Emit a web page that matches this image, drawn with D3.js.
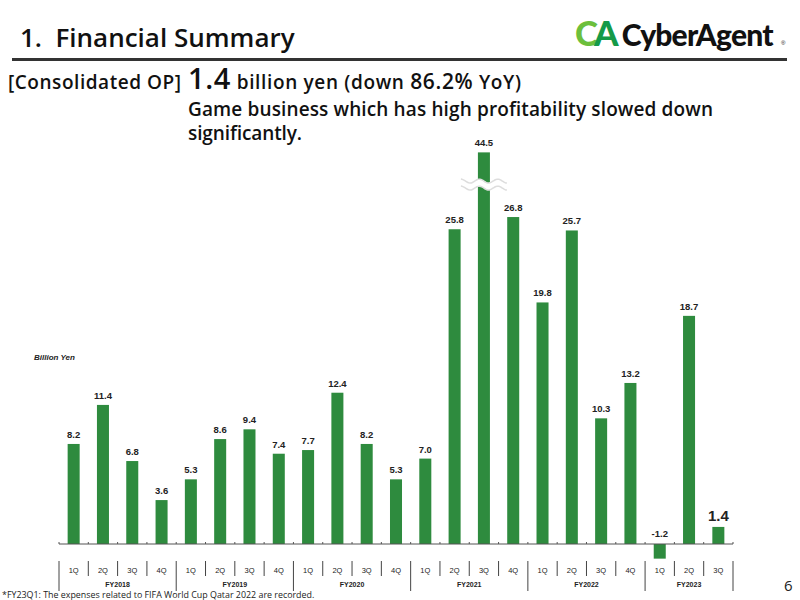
<!DOCTYPE html>
<html>
<head>
<meta charset="utf-8">
<script src="https://cdn.jsdelivr.net/npm/d3@7"></script>
<style>
  body { margin: 0; background: #fff; }
  svg { display: block; }
</style>
</head>
<body>
<div id="vis"></div>
<script>
// Chart data (billion yen, consolidated OP per quarter)
const years = ['FY2018', 'FY2019', 'FY2020', 'FY2021', 'FY2022', 'FY2023']
const quartersPerYear = [4, 4, 4, 4, 4, 3]
const quarterNames = ['1Q', '2Q', '3Q', '4Q']
const values = [8.2, 11.4, 6.8, 3.6,
                5.3, 8.6, 9.4, 7.4,
                7.7, 12.4, 8.2, 5.3,
                7.0, 25.8, 44.5, 26.8,
                19.8, 25.7, 10.3, 13.2,
                -1.2, 18.7, 1.4]

// build flat list of bars
let bars = []
years.forEach(function(fy, yi) {
    for (let q = 0; q < quartersPerYear[yi]; q++) {
        bars.push({fy: fy, q: quarterNames[q], v: values[bars.length]})
    }
})

const W = 800, H = 600
const green = '#2e8b3e'
const sans = '"Open Sans", "Noto Sans", sans-serif'
const arial = '"Liberation Sans", Arial, sans-serif'

const svg = d3.select('#vis').append('svg')
    .attr('width', W).attr('height', H)

// ---- header ----
svg.append('text')
    .attr('x', 20).attr('y', 47)
    .attr('font-family', sans).attr('font-weight', 600)
    .attr('font-size', 26).attr('fill', '#111')
    .attr('xml:space', 'preserve')
    .text('1.  Financial Summary')

svg.append('rect')
    .attr('x', 12).attr('y', 58).attr('width', 775).attr('height', 3)
    .attr('fill', '#333')

// logo
let logo = svg.append('text')
    .attr('x', 575).attr('y', 46)
    .attr('font-family', 'Lato, sans-serif').attr('font-weight', 900)
    .attr('font-size', 35)
logo.append('tspan').attr('fill', '#6cbf3c').attr('letter-spacing', -4).text('C')
logo.append('tspan').attr('fill', '#159a48').text('A')
logo.append('tspan').attr('fill', '#111').attr('dx', 3).attr('font-size', 30)
    .attr('letter-spacing', -0.8).text('CyberAgent')
svg.append('text')
    .attr('x', 781).attr('y', 45)
    .attr('font-family', arial).attr('font-size', 6).attr('fill', '#111')
    .text('®')

// subtitle
svg.append('text')
    .attr('x', 8).attr('y', 89)
    .attr('font-family', sans).attr('font-weight', 600)
    .attr('font-size', 19).attr('fill', '#111')
    .attr('textLength', 173).attr('lengthAdjust', 'spacing')
    .text('[Consolidated OP]')

let head = svg.append('text')
    .attr('x', 188).attr('y', 89)
    .attr('font-family', sans).attr('font-weight', 600)
    .attr('font-size', 19).attr('fill', '#111')
    .attr('textLength', 333).attr('lengthAdjust', 'spacing')
head.append('tspan').attr('font-size', 29).text('1.4')
head.append('tspan').text(' billion yen (down ')
head.append('tspan').attr('font-size', 21).text('86.2%')
head.append('tspan').text(' YoY)')

svg.append('text')
    .attr('x', 188).attr('y', 116)
    .attr('font-family', sans).attr('font-weight', 600)
    .attr('font-size', 19).attr('fill', '#111')
    .attr('textLength', 525).attr('lengthAdjust', 'spacing')
    .text('Game business which has high profitability slowed down')
svg.append('text')
    .attr('x', 188).attr('y', 140)
    .attr('font-family', sans).attr('font-weight', 600)
    .attr('font-size', 19).attr('fill', '#111')
    .attr('textLength', 114).attr('lengthAdjust', 'spacing')
    .text('significantly.')

// ---- chart ----
const x = d3.scaleBand()
    .domain(d3.range(bars.length))
    .range([59, 733])
    .paddingInner(0.59)
    .paddingOuter(0.295)

const y = d3.scaleLinear()
    .domain([0, 30])
    .range([544, 178])

// bars above this are drawn broken
const breakCap = 32.1
const breakAt = 29.5

svg.selectAll('rect.bar')
    .data(bars)
    .enter()
    .append('rect')
    .attr('class', 'bar')
    .attr('x', (d, i) => x(i))
    .attr('width', x.bandwidth())
    .attr('y', d => y(Math.min(Math.max(d.v, 0), breakCap)))
    .attr('height', d => Math.abs(y(Math.min(d.v, breakCap)) - y(0)))
    .attr('fill', green)

// axis break (wavy band)
bars.forEach(function(d, i) {
    if (d.v <= breakCap) return
    let cx = x(i) + x.bandwidth() / 2
    let yc = y(breakAt)
    let wy = (t, off) => yc + off + 2 * Math.sin(t / 23 * Math.PI * 2.5)
    let wave = function(off) {
        return d3.line().curve(d3.curveBasis)(d3.range(-23, 24, 1).map(t => [cx + t, wy(t, off)]))
    }
    let band = d3.range(-23, 24, 1).map(t => [cx + t, wy(t, -3)])
        .concat(d3.range(23, -24, -1).map(t => [cx + t, wy(t, 4)]))
    svg.append('path').attr('d', d3.line()(band) + 'Z').attr('fill', '#fff')
    svg.append('path').attr('d', wave(-3)).attr('fill', 'none').attr('stroke', '#ddd').attr('stroke-width', 1.5)
    svg.append('path').attr('d', wave(4)).attr('fill', 'none').attr('stroke', '#ddd').attr('stroke-width', 1.5)
})

// value labels
svg.selectAll('text.val')
    .data(bars)
    .enter()
    .append('text')
    .attr('class', 'val')
    .attr('x', (d, i) => x(i) + x.bandwidth() / 2)
    .attr('y', d => d.v < 0 ? y(0) - 7 : y(Math.min(d.v, breakCap)) - 6)
    .attr('text-anchor', 'middle')
    .attr('font-family', arial).attr('font-weight', 700)
    .attr('font-size', (d, i) => i === bars.length - 1 ? 15 : 9.5)
    .attr('fill', '#222')
    .text(d => d.v.toFixed(1))

// zero line with small ticks
svg.append('line')
    .attr('x1', 59).attr('x2', 733)
    .attr('y1', y(0)).attr('y2', y(0))
    .attr('stroke', '#555').attr('stroke-width', 1.2)

const sepX = i => 59 + i * x.step()

svg.selectAll('line.tick')
    .data(d3.range(bars.length + 1))
    .enter()
    .append('line')
    .attr('x1', sepX).attr('x2', sepX)
    .attr('y1', y(0) - 2).attr('y2', y(0))
    .attr('stroke', '#555')

// category separators and labels
let yearStarts = [0]
quartersPerYear.forEach(n => yearStarts.push(yearStarts[yearStarts.length - 1] + n))

svg.selectAll('line.sep')
    .data(d3.range(bars.length + 1))
    .enter()
    .append('line')
    .attr('x1', sepX).attr('x2', sepX)
    .attr('y1', 561)
    .attr('y2', i => yearStarts.includes(i) ? 591 : 576)
    .attr('stroke', '#444').attr('stroke-width', 1)

svg.selectAll('text.q')
    .data(bars)
    .enter()
    .append('text')
    .attr('x', (d, i) => x(i) + x.bandwidth() / 2)
    .attr('y', 573)
    .attr('text-anchor', 'middle')
    .attr('font-family', arial).attr('font-size', 7.5)
    .attr('fill', '#222')
    .text(d => d.q)

svg.selectAll('text.fy')
    .data(years)
    .enter()
    .append('text')
    .attr('x', (d, i) => (sepX(yearStarts[i]) + sepX(yearStarts[i + 1])) / 2)
    .attr('y', 587)
    .attr('text-anchor', 'middle')
    .attr('font-family', arial).attr('font-weight', 700).attr('font-size', 7)
    .attr('fill', '#222')
    .text(d => d)

// unit label
svg.append('text')
    .attr('x', 34).attr('y', 360)
    .attr('font-family', arial).attr('font-weight', 700)
    .attr('font-style', 'italic').attr('font-size', 8)
    .attr('fill', '#222')
    .text('Billion Yen')

// footnote and page number
svg.append('text')
    .attr('x', 2).attr('y', 598)
    .attr('font-family', sans).attr('font-size', 8.9)
    .attr('fill', '#222')
    .text('*FY23Q1: The expenses related to FIFA World Cup Qatar 2022 are recorded.')

svg.append('text')
    .attr('x', 784).attr('y', 591)
    .attr('font-family', sans).attr('font-size', 15)
    .attr('fill', '#222')
    .text('6')
</script>
</body>
</html>
